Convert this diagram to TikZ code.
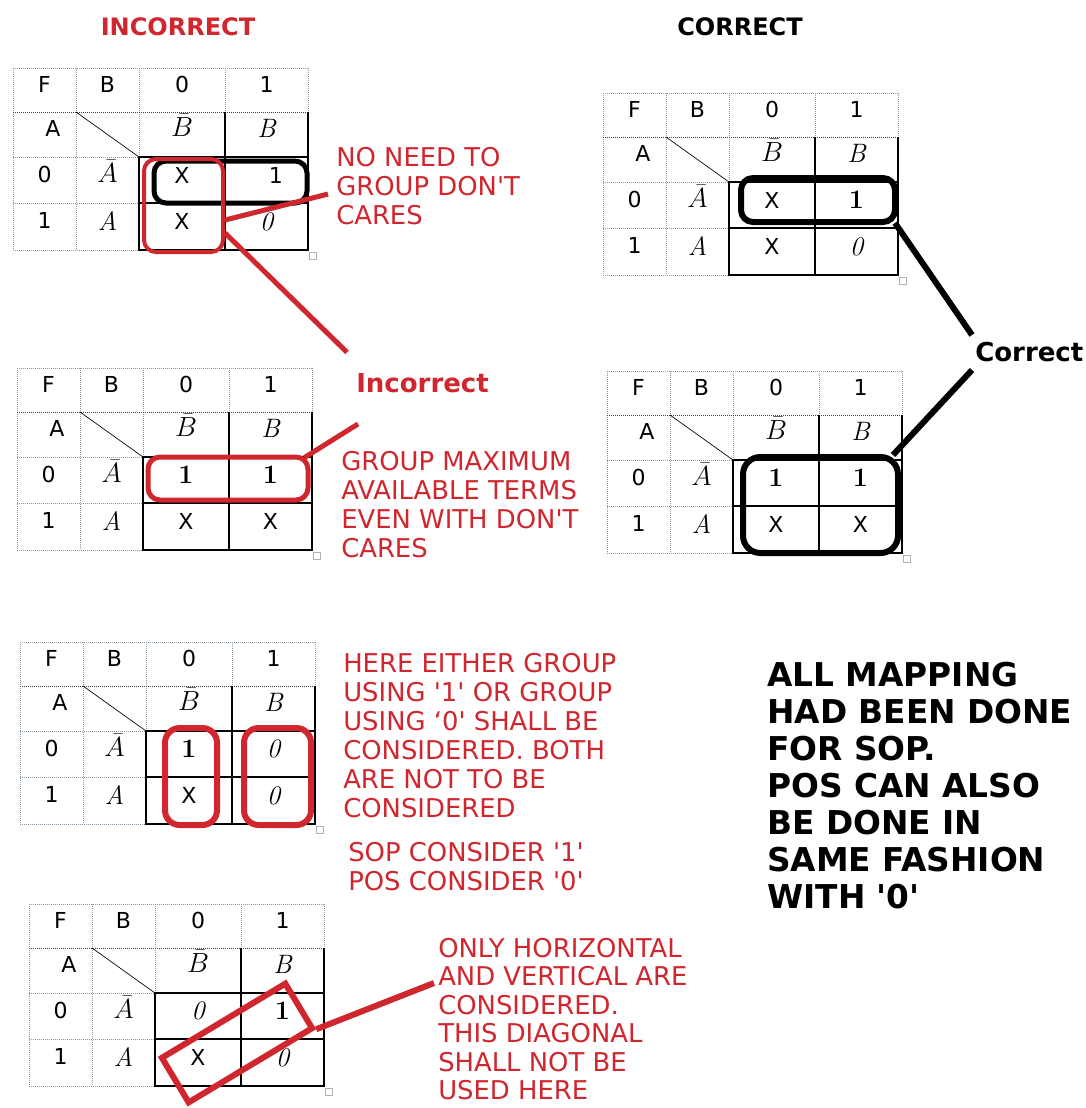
\documentclass[tikz,border=0pt]{standalone}
\usepackage{fontspec}
\newfontfamily\vfont[Ligatures=TeXOff]{DejaVu Sans}
\usetikzlibrary{fit}
\definecolor{Wrong}{HTML}{D0262E}
\definecolor{Grid}{HTML}{8C9AA6}
\newcommand{\vit}[1]{{\rmfamily\itshape\fontsize{20}{22}\selectfont #1}}
\newcommand{\vbf}[1]{{\rmfamily\bfseries\fontsize{20}{22}\selectfont #1}}
\newcommand{\vbar}[1]{{\fontsize{20}{22}\selectfont$\bar{#1}$}}
\tikzset{
    gridline/.style={draw=Grid, line width=0.6pt, dash pattern=on 0.6pt off 0.9pt},
    headline/.style={draw=black!75, line width=0.7pt, dash pattern=on 0.7pt off 0.8pt},
    cellline/.style={draw=black, line width=0.9pt},
    slashline/.style={draw=black, line width=0.5pt},
    handle/.style={draw=gray!60, line width=0.6pt, fill=white},
    keytext/.style={font=\vfont\fontsize{16.5}{19}\selectfont, inner sep=0pt},
    note/.style={font=\vfont\fontsize{19.4}{21.75}\selectfont, text=Wrong, align=left, inner sep=0pt, anchor=north west},
    bignote/.style={font=\vfont\bfseries\fontsize{24.6}{27.75}\selectfont, align=left, inner sep=0pt, anchor=north west},
    titletext/.style={font=\vfont\bfseries\fontsize{18}{22}\selectfont, inner sep=0pt},
    labeltext/.style={font=\vfont\bfseries\fontsize{19.5}{23}\selectfont, inner sep=0pt, anchor=west},
    redloop/.style={draw=Wrong, line width=3.75pt, rounded corners=9pt, inner sep=0pt},
    blackloop/.style={draw=black, line width=4.5pt, rounded corners=9pt, inner sep=0pt},
    redbox/.style={draw=Wrong, line width=4.5pt, inner sep=0pt},
    redlink/.style={draw=Wrong, line width=3.75pt},
    blacklink/.style={draw=black, line width=4.5pt},
}
% K-map: name, origin, four entries
\newcommand{\kmap}[6]{%
  \begin{scope}[shift={#2}]
    % dotted key cells
    \draw[gridline] (0,0) -- (295,0);
    \draw[gridline] (0,0) -- (0,182) -- (126,182);
    \draw[gridline] (63,0) -- (63,182);
    \draw[gridline] (126,0) -- (126,89);
    \draw[gridline] (212,0) -- (212,44);
    \draw[gridline] (295,0) -- (295,44);
    \draw[gridline] (0,89) -- (126,89);
    \draw[gridline] (0,135) -- (126,135);
    \draw[headline] (0,44) -- (295,44);
    % solid cells
    \draw[cellline] (126,89) rectangle (295,182);
    \draw[cellline] (126,135) -- (295,135);
    \draw[cellline] (212,44) -- (212,182);
    \draw[cellline] (295,44) -- (295,89);
    \draw[slashline] (63,44) -- (126,89);
    \draw[handle] (296,184) rectangle (303,191);
    % labels
    \node[keytext] (#1-f)  at (31.5,16)    {F};
    \node[keytext] (#1-b)  at (94.5,16)    {B};
    \node[keytext] (#1-c0) at (169,16)     {0};
    \node[keytext] (#1-c1) at (253.5,16)   {1};
    \node[keytext] (#1-a)  at (40,60.5)    {A};
    \node[keytext] (#1-nb) at (169,57.5)   {\vbar{B}};
    \node[keytext] (#1-pb) at (253.5,60.5) {\vit{B}};
    \node[keytext] (#1-r0) at (31.5,106)   {0};
    \node[keytext] (#1-na) at (94.5,103)   {\vbar{A}};
    \node[keytext] (#1-r1) at (31.5,152.5) {1};
    \node[keytext] (#1-pa) at (94.5,152.5) {\vit{A}};
    % entries
    \node[keytext] (#1-m0) at (169,107)    {#3};
    \node[keytext] (#1-m1) at (253.5,107)  {#4};
    \node[keytext] (#1-m2) at (169,153.5)  {#5};
    \node[keytext] (#1-m3) at (253.5,153.5){#6};
  \end{scope}}

\begin{document}
\begin{tikzpicture}[x=0.75pt, y=-0.75pt]
    \fill[white] (0,0) rectangle (1086,1108);
    \path[use as bounding box] (0,0) rectangle (1086,1108);

    % Titoli
    \node[titletext, text=Wrong] (inc-title) at (178,27) {INCORRECT};
    \node[titletext] (cor-title) at (740,27) {CORRECT};

    % Mappe
    \kmap{t1}{(13,68)}{X}{\hspace{14pt}1}{X}{\vit{0}}
    \kmap{t2}{(603,93)}{X}{\vbf{1}}{X}{\vit{0}}
    \kmap{t3}{(17,368)}{\vbf{1}}{\vbf{1}}{X}{X}
    \kmap{t4}{(607,371)}{\vbf{1}}{\vbf{1}}{X}{X}
    \kmap{t5}{(20,642)}{\vbf{1}}{\vit{0}}{X}{\vit{0}}
    \kmap{t6}{(29,904)}{\vit{0}}{\vbf{1}}{X}{\vit{0}}

    % Gruppi
    \node[blackloop, line width=3.75pt, fit={(154,161) (307,203)}] (t1-row) {};
    \node[redloop, line width=3pt, fit={(144,159) (223,252)}] (t1-col) {};
    \node[blackloop, fit={(741,178) (895,222)}] (t2-row) {};
    \node[redloop, fit={(148,457) (308,500)}] (t3-row) {};
    \node[blackloop, rounded corners=13pt, fit={(743,457) (898,553)}] (t4-quad) {};
    \node[redloop, line width=4.5pt, rounded corners=11pt, fit={(165,728) (217,825)}] (t5-ones) {};
    \node[redloop, line width=4.5pt, rounded corners=11pt, fit={(244,728) (311,825)}] (t5-zeros) {};
    \node[redbox, rotate=31, minimum width=108pt, minimum height=39pt] (t6-diag) at (237,1043) {};

    % Note
    \node[note] (n-group) at (336,147) {NO NEED TO\\GROUP DON'T\\CARES};
    \node[labeltext, text=Wrong] (inc) at (356,383) {Incorrect};
    \node[note] (n-max) at (341,451) {GROUP MAXIMUM\\AVAILABLE TERMS\\EVEN WITH DON'T\\CARES};
    \node[labeltext] (cor) at (975,352) {Correct};
    \node[note] (n-either) at (343,653) {HERE EITHER GROUP\\USING '1' OR GROUP\\USING ‘0' SHALL BE\\CONSIDERED. BOTH\\ARE NOT TO BE\\CONSIDERED};
    \node[note] (n-sop) at (348,842) {SOP CONSIDER '1'\\POS CONSIDER '0'};
    \node[note, font=\vfont\fontsize{19.4}{21.3}\selectfont] (n-diag) at (438,938) {ONLY HORIZONTAL\\AND VERTICAL ARE\\CONSIDERED.\\THIS DIAGONAL\\SHALL NOT BE\\USED HERE};
    \node[bignote] (n-all) at (767,662) {ALL MAPPING\\HAD BEEN DONE\\FOR SOP.\\POS CAN ALSO\\BE DONE IN\\SAME FASHION\\WITH '0'};

    % Linee
    \draw[redlink] ([yshift=-10.9pt]t1-col.east) -- ([shift={(-6pt,-6pt)}]n-group.west);
    \draw[redlink] ([yshift=-20.6pt]t1-col.east) -- ([shift={(-6.75pt,15.6pt)}]inc.north west);
    \draw[redlink] ([shift={(-4.5pt,-2.25pt)}]t3-row.north east) -- ([shift={(12.75pt,20.25pt)}]n-max.north west);
    \draw[blacklink] ([shift={(-2.25pt,1.5pt)}]t2-row.south east) -- ([shift={(-2.25pt,12.75pt)}]cor.west);
    \draw[blacklink] ([shift={(-6pt,-0.75pt)}]t4-quad.north east) -- ([shift={(-2.25pt,-13.5pt)}]cor.west);
    \draw[redlink, line width=4.5pt] (t6-diag.south east) -- ([shift={(-3pt,-33.75pt)}]n-diag.north west);
\end{tikzpicture}
\end{document}
